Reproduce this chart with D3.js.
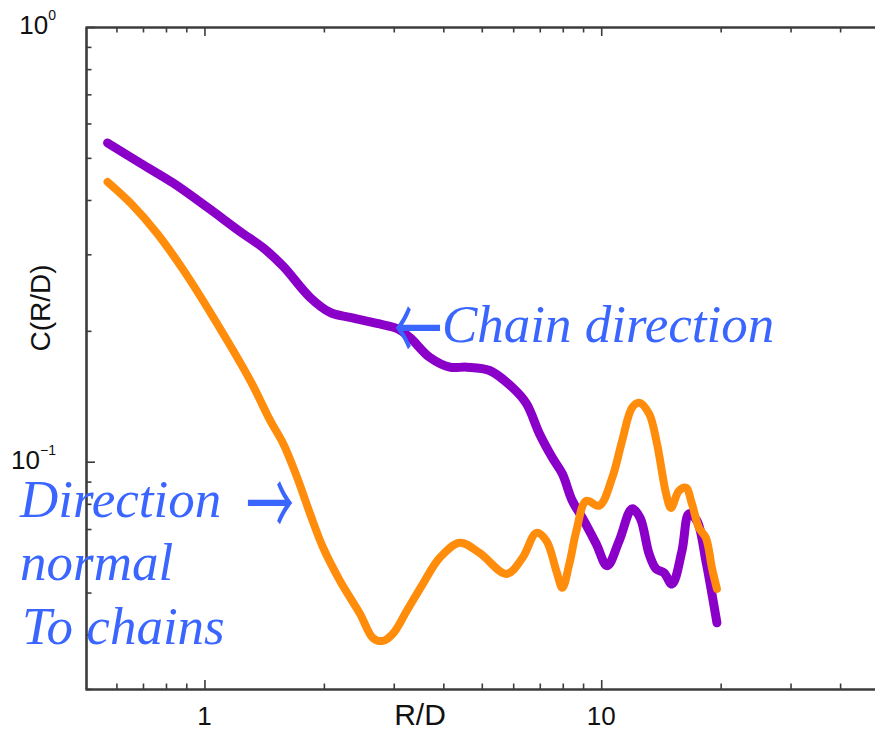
<!DOCTYPE html>
<html>
<head>
<meta charset="utf-8">
<script src="https://cdn.jsdelivr.net/npm/d3@7"></script>
<style>
  body { margin: 0; background: #fff; }
  svg { display: block; }
</style>
</head>
<body>
<svg id="chart" width="875" height="731"></svg>
<script>
// Correlation C(R/D) along the chain direction
const chainR = [0.57, 0.69, 0.836, 1.016, 1.232, 1.406, 1.58, 1.846, 2.073, 2.327,
  2.721, 3.054, 3.294, 3.698, 4.151, 4.58, 5.232, 5.975, 6.48, 6.987,
  7.532, 7.98, 8.455, 8.96, 9.714, 10.35, 11.1, 11.96, 12.53, 13.2,
  13.75, 14.4, 15.08, 15.98, 16.64, 17.43, 18.36, 19.01, 19.57];
const chainC = [0.541, 0.486, 0.437, 0.385, 0.338, 0.3105, 0.2813, 0.2387, 0.2205, 0.2147,
  0.208, 0.2025, 0.1931, 0.1737, 0.165, 0.165, 0.1621, 0.1481, 0.136, 0.116,
  0.1021, 0.0938, 0.0813, 0.0743, 0.0647, 0.0576, 0.0658, 0.0779, 0.0743, 0.0614,
  0.0567, 0.0555, 0.0523, 0.0624, 0.0759, 0.0731, 0.0591, 0.0497, 0.0426];

// Correlation C(R/D) normal to the chains
const normalR = [0.57, 0.652, 0.76, 0.886, 1.053, 1.305, 1.465, 1.58, 1.713, 1.846,
  1.991, 2.196, 2.466, 2.659, 2.818, 2.985, 3.236, 3.55, 3.917, 4.398,
  4.937, 5.771, 6.332, 6.866, 7.274, 7.706, 7.98, 8.311, 8.655, 9.17,
  9.886, 10.66, 11.29, 11.96, 12.46, 13.2, 13.82, 14.57, 14.99, 15.7,
  16.35, 16.93, 17.63, 18.36, 19.01, 19.57];
const normalC = [0.44, 0.393, 0.335, 0.2755, 0.2147, 0.1537, 0.1243, 0.11, 0.0919, 0.0759,
  0.0634, 0.0532, 0.0447, 0.0393, 0.0387, 0.0402, 0.0454, 0.0523, 0.0601, 0.0651,
  0.0617, 0.0552, 0.0601, 0.0686, 0.0658, 0.0561, 0.0513, 0.0582, 0.0693, 0.0813,
  0.0792, 0.0919, 0.1117, 0.1332, 0.1367, 0.129, 0.11, 0.0844, 0.0783, 0.0857,
  0.0871, 0.08, 0.0705, 0.0668, 0.057, 0.051];

// Tick positions and labels
const xTickValues = [0.6, 0.7, 0.8, 0.9, 1, 2, 3, 4, 5, 6, 7, 8, 9, 10, 20, 30, 40, 50, 60, 70, 80, 90, 100];
const xLabelValues = [1, 10];
const xLabelTexts = ["1", "10"];
const yTickValues = [0.03, 0.04, 0.05, 0.06, 0.07, 0.08, 0.09, 0.1, 0.2, 0.3, 0.4, 0.5, 0.6, 0.7, 0.8, 0.9, 1];
const yLabelValues = [1, 0.1];
const yLabelExponents = ["0", "\u22121"];

const svg = d3.select("#chart");
const plot = { left: 85, top: 27, bottom: 689, right: 998 };

const x = d3.scaleLog().domain([0.5, 100]).range([plot.left, plot.right]);
const y = d3.scaleLog().domain([0.03, 1]).range([plot.bottom, plot.top]);

const isMajor = v => Math.abs(Math.log10(v) - Math.round(Math.log10(v))) < 1e-9;
const axisColor = "#3c3c3c";

function styleAxis(g, horizontal, sign) {
  g.select(".domain").attr("stroke", axisColor).attr("stroke-width", 2.6);
  g.selectAll(".tick line")
    .attr("stroke", axisColor)
    .attr("stroke-width", 1.6)
    .each(function(d) {
      const len = isMajor(d) ? 9 : 5.5;
      d3.select(this).attr(horizontal ? "y2" : "x2", sign * len);
    });
  g.selectAll(".tick text").remove();
}

svg.append("g").attr("transform", `translate(0,${plot.bottom})`)
  .call(d3.axisBottom(x).tickValues(xTickValues).tickSizeOuter(0).tickFormat(""))
  .call(g => styleAxis(g, true, -1));
svg.append("g").attr("transform", `translate(0,${plot.top})`)
  .call(d3.axisTop(x).tickValues(xTickValues).tickSizeOuter(0).tickFormat(""))
  .call(g => styleAxis(g, true, 1));
svg.append("g").attr("transform", `translate(${plot.left + 1},0)`)
  .call(d3.axisLeft(y).tickValues(yTickValues).tickSizeOuter(0).tickFormat(""))
  .call(g => styleAxis(g, false, 1));
svg.append("g").attr("transform", `translate(${plot.right},0)`)
  .call(d3.axisRight(y).tickValues(yTickValues).tickSizeOuter(0).tickFormat(""))
  .call(g => styleAxis(g, false, -1));

// Tick labels
const sans = "'Liberation Sans', Arial, Helvetica, sans-serif";
svg.selectAll(".xlabel").data(xLabelValues).enter().append("text")
  .attr("x", d => x(d)).attr("y", 725)
  .attr("text-anchor", "middle")
  .attr("font-family", sans).attr("font-size", 26).attr("fill", "#111")
  .text((d, i) => xLabelTexts[i]);

yLabelValues.forEach((v, i) => {
  const t = svg.append("text")
    .attr("x", 56).attr("y", y(v) + 7)
    .attr("text-anchor", "end")
    .attr("font-family", sans).attr("font-size", 26).attr("fill", "#111");
  t.append("tspan").text("10");
  t.append("tspan").attr("dy", -14).attr("font-size", 14).text(yLabelExponents[i]);
});

// Axis titles
svg.append("text")
  .attr("x", 420).attr("y", 725).attr("text-anchor", "middle")
  .attr("font-family", sans).attr("font-size", 30).attr("fill", "#111")
  .text("R/D");
svg.append("text")
  .attr("transform", "translate(50,308) rotate(-90)")
  .attr("text-anchor", "middle")
  .attr("font-family", sans).attr("font-size", 28).attr("fill", "#111")
  .text("C(R/D)");

// Curves
const line = d3.line().x(d => x(d[0])).y(d => y(d[1])).curve(d3.curveCatmullRom.alpha(0.5));
const chainData = chainR.map((r, i) => [r, chainC[i]]);
const normalData = normalR.map((r, i) => [r, normalC[i]]);

svg.append("path").datum(chainData)
  .attr("d", line).attr("fill", "none")
  .attr("stroke", "#8a00c8").attr("stroke-width", 9)
  .attr("stroke-linecap", "round").attr("stroke-linejoin", "round");
svg.append("path").datum(normalData)
  .attr("d", line).attr("fill", "none")
  .attr("stroke", "#ff8c0a").attr("stroke-width", 8)
  .attr("stroke-linecap", "round").attr("stroke-linejoin", "round");

// Annotations
const serif = "'Liberation Serif', 'Times New Roman', serif";
const blue = "#3a66ff";
function note(txt, px, py) {
  svg.append("text").attr("x", px).attr("y", py)
    .attr("font-family", serif).attr("font-size", 53)
    .attr("font-style", "italic")
    .attr("fill", blue).text(txt);
}
// arrow glyphs, centred on (cx, cy) and stretched to a tall open head
function arrow(glyph, cx, cy) {
  svg.append("g").attr("transform", `translate(${cx},${cy}) scale(1,1.9)`)
    .append("text")
    .attr("x", 0).attr("y", 0)
    .attr("text-anchor", "middle").attr("dominant-baseline", "central")
    .attr("font-family", "'Noto Sans CJK JP', 'Noto Sans CJK SC', sans-serif")
    .attr("font-size", 48)
    .attr("fill", blue).text(glyph);
}
arrow("\u2190", 418, 322);
note("Chain direction", 442, 342);
note("Direction", 20, 517);
arrow("\u2192", 270, 497);
note("normal", 20, 580);
note("To chains", 22, 644);
</script>
</body>
</html>
